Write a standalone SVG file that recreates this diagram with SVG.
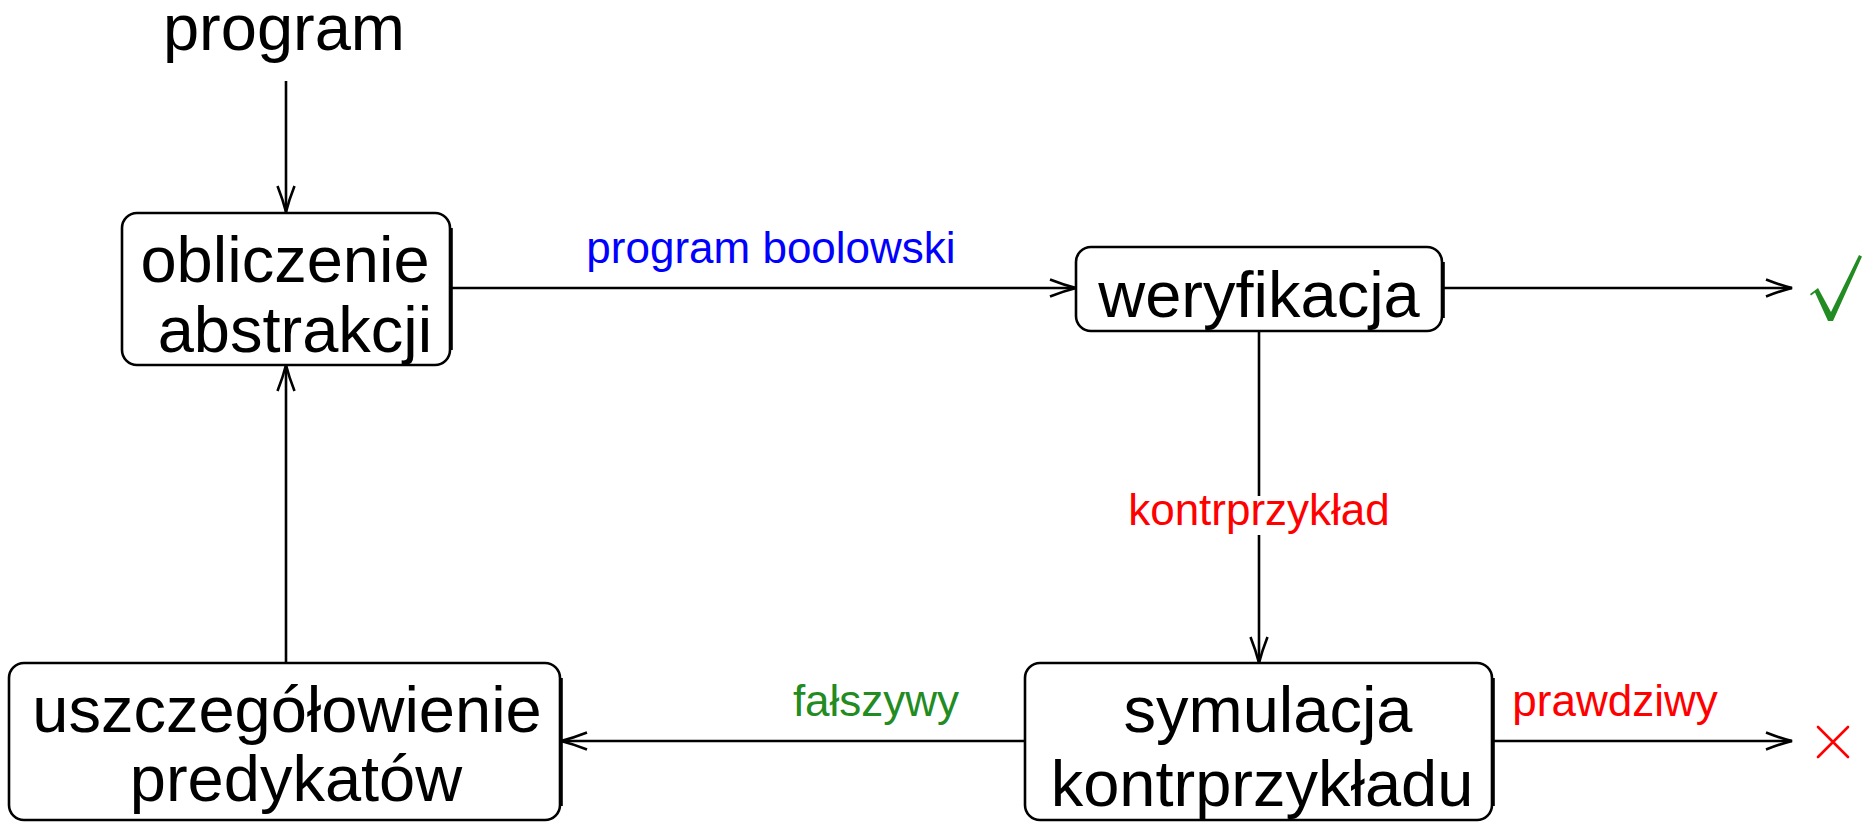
<svg xmlns="http://www.w3.org/2000/svg" width="1872" height="822" viewBox="0 0 1872 822">
<style>
.box{fill:#fff;stroke:#000;stroke-width:2.6}
.edge{fill:none;stroke:#000;stroke-width:2.6}
.t{font-family:"Liberation Sans",Arial,sans-serif;font-size:65px;fill:#000;text-anchor:middle}
.l{font-family:"Liberation Sans",Arial,sans-serif;font-size:44px;text-anchor:middle}
</style>
<defs>
<marker id="ah" viewBox="0 0 28 20" refX="27" refY="10" markerWidth="28" markerHeight="20" markerUnits="userSpaceOnUse" orient="auto">
<path d="M1,1.5 Q15,7 27,10 Q15,13 1,18.5" fill="none" stroke="#000" stroke-width="2.6"/>
</marker>
</defs>
<rect width="1872" height="822" fill="#fff"/>
<g id="connectors">
<line class="edge" x1="286" y1="81" x2="286" y2="212" marker-end="url(#ah)"/>
<line class="edge" x1="451" y1="288" x2="1076" y2="288" marker-end="url(#ah)"/>
<line class="edge" x1="1442" y1="288" x2="1792" y2="288" marker-end="url(#ah)"/>
<line class="edge" x1="1259" y1="331" x2="1259" y2="663" marker-end="url(#ah)"/>
<line class="edge" x1="1025" y1="741" x2="561" y2="741" marker-end="url(#ah)"/>
<line class="edge" x1="1492" y1="741" x2="1792" y2="741" marker-end="url(#ah)"/>
<line class="edge" x1="286" y1="663" x2="286" y2="365" marker-end="url(#ah)"/>
</g>
<g id="program">
<text class="t" x="284" y="50">program</text>
</g>
<g id="obliczenie">
<rect class="box" x="122" y="213" width="328" height="152" rx="15"/>
<line class="edge" x1="451.5" y1="228" x2="451.5" y2="350"/>
<text class="t" x="285" y="282">obliczenie</text>
<text class="t" x="295" y="352">abstrakcji</text>
</g>
<g id="weryfikacja">
<rect class="box" x="1076" y="247" width="366" height="84" rx="15"/>
<line class="edge" x1="1443.5" y1="262" x2="1443.5" y2="318"/>
<text class="t" x="1259" y="317">weryfikacja</text>
</g>
<g id="symulacja">
<rect class="box" x="1025" y="663" width="467" height="157" rx="15"/>
<line class="edge" x1="1493.5" y1="678" x2="1493.5" y2="806"/>
<text class="t" x="1268" y="732">symulacja</text>
<text class="t" x="1262" y="806">kontrprzykładu</text>
</g>
<g id="uszczegolowienie">
<rect class="box" x="9" y="663" width="551" height="157" rx="15"/>
<line class="edge" x1="561.5" y1="678" x2="561.5" y2="806"/>
<text class="t" x="287" y="732">uszczegółowienie</text>
<text class="t" x="296" y="801">predykatów</text>
</g>
<g id="labels">
<text class="l" x="771" y="263" fill="#0000ff">program boolowski</text>
<rect x="1236" y="496" width="46" height="39" fill="#fff"/>
<text class="l" x="1259" y="525" fill="#ff0000">kontrprzykład</text>
<text class="l" x="876" y="716" fill="#228b22">fałszywy</text>
<text class="l" x="1615" y="716" fill="#ff0000">prawdziwy</text>
</g>
<g id="check">
<polygon points="1810,294 1818,288 1831,312 1859,255 1862,256.5 1833,321 1828,321 1815,292.5 1811,295.5" fill="#228b22"/>
</g>
<g id="cross">
<path d="M1818,727 L1848,757 M1848,727 L1818,757" stroke="#ff0000" stroke-width="2.6" stroke-linecap="round" fill="none"/>
</g>
</svg>
